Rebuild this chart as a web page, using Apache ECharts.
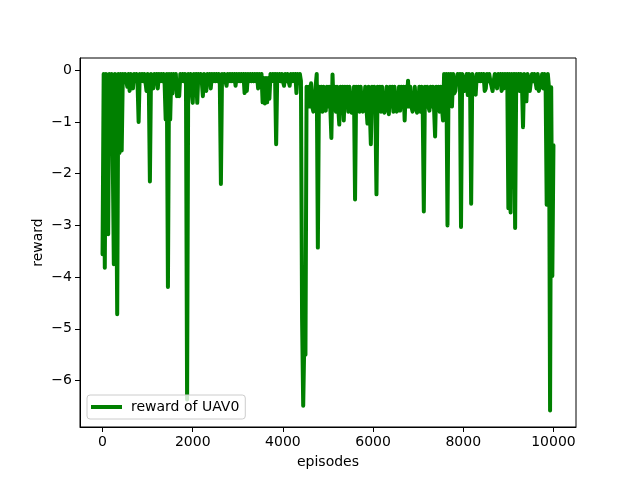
<!DOCTYPE html>
<html>
<head>
<meta charset="utf-8">
<script src="https://cdn.jsdelivr.net/npm/echarts@6/dist/echarts.min.js"></script>
<style>
  html, body { margin : 0; padding : 0; background : #fff; }
  #chart { width : 640px; height : 480px; }
</style>
</head>
<body>
<div id="chart"></div>
<script>
// reward every 25 episodes, one list per 2000 episodes
const episodeStep = 25

const rewards0 = [
  -3.56, -0.07, -3.82, -0.07, -1.55, -3.17, -0.07, -1.6, -0.07, -1.55,
  -3.75, -0.07, -1.6, -4.72, -0.07, -1.6, -0.07, -1.55, -0.07, -0.21,
  -0.07, -0.21, -0.32, -0.07, -0.4, -0.07, -0.21, -0.35, -0.07, -0.21,
  -0.07, -0.21, -1.0, -0.07, -0.21, -0.07, -0.21, -0.07, -0.21, -0.4,
  -0.07, -0.21, -2.15, -0.07, -0.21, -0.35, -0.07, -0.21, -0.07, -0.35,
  -0.07, -0.21, -0.07, -0.21, -0.07, -0.21, -0.95, -0.07, -4.19, -0.07,
  -0.95, -0.07, -0.45, -0.07, -0.21, -0.07, -0.5, -0.21, -0.5, -0.07,
  -0.21, -0.07, -0.21, -0.07, -0.21, -6.37, -0.07, -0.21, -0.07, -0.4
]

const rewards2000 = [
  -0.63, -0.07, -0.21, -0.07, -0.63, -0.07, -0.21, -0.07, -0.21, -0.5,
  -0.07, -0.21, -0.4, -0.07, -0.21, -0.07, -0.35, -0.07, -0.21, -0.07,
  -0.21, -0.07, -0.21, -0.07, -0.21, -2.2, -0.07, -0.21, -0.07, -0.21,
  -0.3, -0.07, -0.21, -0.07, -0.21, -0.07, -0.21, -0.07, -0.3, -0.07,
  -0.21, -0.07, -0.21, -0.07, -0.21, -0.07, -0.44, -0.07, -0.4, -0.07,
  -0.21, -0.07, -0.21, -0.07, -0.21, -0.07, -0.21, -0.07, -0.35, -0.07,
  -0.21, -0.07, -0.62, -0.15, -0.64, -0.15, -0.62, -0.15, -0.55, -0.07,
  -0.21, -0.07, -0.21, -0.07, -1.43, -0.07, -0.21, -0.07, -0.21, -0.07
]

const rewards4000 = [
  -0.21, -0.3, -0.07, -0.21, -0.07, -0.21, -0.3, -0.07, -0.21, -0.07,
  -0.21, -0.07, -0.44, -0.07, -0.21, -0.07, -0.21, -4.8, -6.49, -5.2,
  -5.5, -0.32, -0.7, -0.32, -0.7, -0.25, -0.7, -0.8, -0.7, -0.32,
  -0.07, -3.43, -0.32, -0.7, -0.32, -0.8, -0.32, -0.7, -0.78, -0.32,
  -0.7, -0.32, -0.7, -1.31, -0.08, -0.7, -0.32, -0.8, -0.32, -0.7,
  -1.05, -0.32, -0.7, -0.32, -0.97, -0.32, -0.7, -0.32, -0.8, -0.32,
  -0.7, -0.82, -0.7, -0.32, -2.5, -0.32, -0.7, -0.32, -0.8, -0.32,
  -0.7, -0.8, -0.7, -0.32, -0.7, -1.03, -0.32, -0.7, -1.43, -0.32
]

const rewards6000 = [
  -0.7, -0.32, -0.7, -2.4, -0.32, -0.7, -0.32, -0.8, -0.32, -0.7,
  -0.82, -0.7, -0.32, -0.7, -0.85, -0.32, -0.7, -0.32, -0.8, -0.32,
  -0.7, -0.8, -0.7, -0.32, -0.78, -0.32, -0.7, -0.32, -0.97, -0.32,
  -0.7, -0.2, -0.7, -0.32, -0.7, -0.8, -0.7, -0.32, -0.7, -0.82,
  -0.7, -0.32, -0.8, -0.32, -0.7, -2.73, -0.32, -0.7, -0.32, -0.7,
  -0.78, -0.32, -0.7, -0.32, -0.7, -1.28, -0.32, -0.7, -0.32, -0.8,
  -0.32, -0.7, -0.97, -0.07, -0.7, -0.07, -3.0, -0.07, -0.6, -0.07,
  -0.7, -0.07, -0.45, -0.4, -0.21, -0.07, -0.21, -0.07, -3.03, -0.07
]

const rewards8000 = [
  -0.21, -0.4, -0.25, -0.07, -0.48, -0.07, -0.21, -2.58, -0.07, -0.21,
  -0.4, -0.47, -0.07, -0.21, -0.07, -0.21, -0.07, -0.21, -0.07, -0.4,
  -0.35, -0.07, -0.21, -0.07, -0.21, -0.3, -0.4, -0.21, -0.07, -0.21,
  -0.35, -0.07, -0.21, -0.07, -0.4, -0.07, -0.35, -0.07, -0.21, -0.07,
  -2.67, -0.07, -2.75, -0.07, -0.21, -0.07, -3.05, -0.07, -0.21, -0.07,
  -0.4, -0.07, -0.21, -1.1, -0.07, -0.21, -0.6, -0.07, -0.21, -0.4,
  -0.21, -0.07, -0.21, -0.07, -0.21, -0.35, -0.07, -0.4, -0.4, -0.21,
  -0.07, -0.35, -0.07, -0.21, -2.6, -0.07, -0.33, -6.58, -0.33, -3.98,
  -1.45
]

const xTicks = [0, 2000, 4000, 6000, 8000, 10000]
const yTicks = [-6, -5, -4, -3, -2, -1, 0]

const seriesName = 'reward of UAV0'
const font = 'DejaVu Sans'

const minusFmt = v => ( v < 0 ? '\u2212' + Math.abs( v ) : String( v ) )

const initChart = () => {
  const chart = echarts.init( document.getElementById( 'chart' ), null, { renderer : 'canvas' } )
  const rewards = [].concat( rewards0, rewards2000, rewards4000, rewards6000, rewards8000 )
  const data = rewards.map( ( r, i ) => [i * episodeStep, r] )

  chart.setOption( {
    animation : false,
    backgroundColor : '#fff',
    textStyle : { fontFamily : font },
    grid : {
      left : 80,
      right : 64,
      top : 58,
      bottom : 53,
      containLabel : false,
      outerBoundsMode : 'none',
      show : true,
      borderColor : '#000',
      borderWidth : 1,
      backgroundColor : 'transparent'
    },
    legend : {
      data : [seriesName],
      left : 87,
      top : 395,
      icon : 'rect',
      itemWidth : 31,
      itemHeight : 4,
      padding : [5, 6, 5, 4],
      backgroundColor : 'rgba(255,255,255,0.8)',
      borderColor : '#cccccc',
      borderWidth : 1,
      borderRadius : 3,
      textStyle : {
        fontFamily : font,
        fontSize : 14,
        color : '#000',
        padding : [0, 0, 0, 4]
      }
    },
    xAxis : {
      type : 'value',
      min : -500,
      max : 10500,
      name : 'episodes',
      nameLocation : 'middle',
      nameGap : 28,
      nameMoveOverlap : false,
      nameTextStyle : { fontFamily : font, fontSize : 14, color : '#000' },
      axisLine : { show : true, onZero : false, lineStyle : { color : '#000', width : 1 } },
      axisTick : { show : true, inside : false, length : 5, customValues : xTicks, lineStyle : { color : '#000' } },
      axisLabel : { customValues : xTicks, margin : 8, fontFamily : font, fontSize : 14, color : '#000', formatter : minusFmt },
      splitLine : { show : false }
    },
    yAxis : {
      type : 'value',
      min : -6.9,
      max : 0.238,
      name : 'reward',
      nameLocation : 'middle',
      nameGap : 35,
      nameMoveOverlap : false,
      nameTextStyle : { fontFamily : font, fontSize : 14, color : '#000' },
      axisLine : { show : true, onZero : false, lineStyle : { color : '#000', width : 1 } },
      axisTick : { show : true, inside : false, length : 5, customValues : yTicks, lineStyle : { color : '#000' } },
      axisLabel : { customValues : yTicks, margin : 8, fontFamily : font, fontSize : 14, color : '#000', formatter : minusFmt },
      splitLine : { show : false }
    },
    series : [
      {
        name : seriesName,
        type : 'line',
        data,
        showSymbol : false,
        symbol : 'none',
        itemStyle : { color : '#008000' },
        lineStyle : { color : '#008000', width : 4, cap : 'round', join : 'round' },
        clip : true
      }
    ]
  } )
}

initChart()
</script>
</body>
</html>
